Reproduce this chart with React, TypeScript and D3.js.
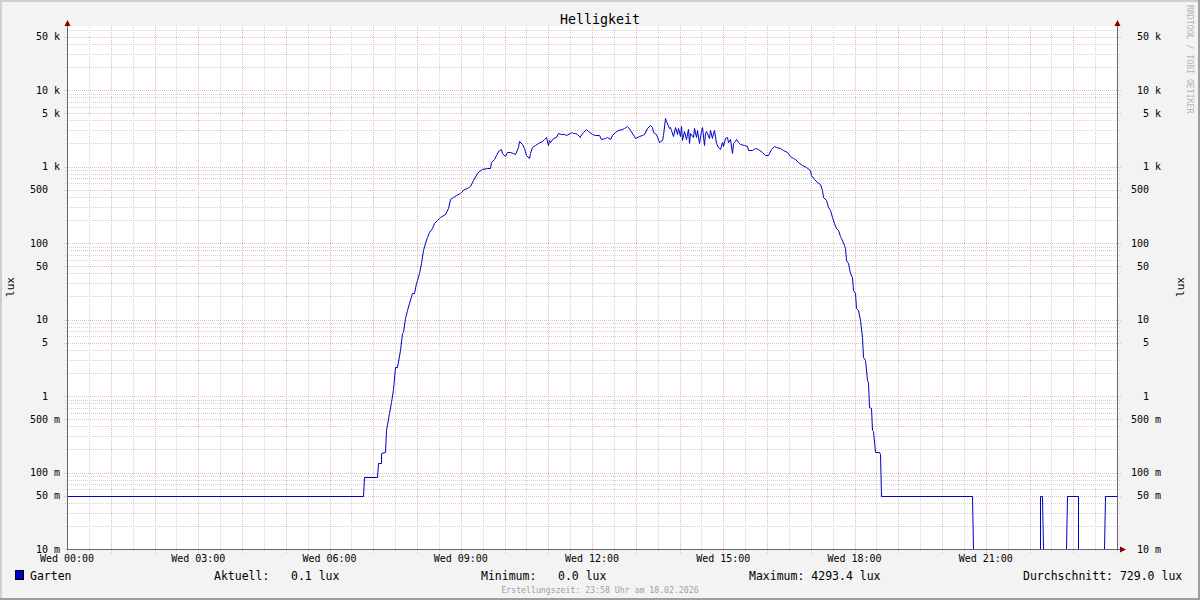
import React, { useEffect } from 'react'
import * as d3 from 'd3'

// Zeit in Minuten seit 00:00, Helligkeit in lux
const TIMES = [
  0, 406, 407, 425, 426, 430, 431, 436, 438, 442, 445, 447, 450, 453, 456, 459, 461, 464, 466, 469,
  473, 476, 478, 480, 483, 485, 488, 491, 494, 497, 500, 503, 507, 512, 518, 522, 525, 530, 534, 539,
  544, 548, 553, 557, 562, 565, 569, 576, 580, 582, 586, 588, 591, 595, 597, 600, 603, 607, 611, 614,
  618, 620, 624, 627, 629, 633, 635, 638, 642, 646, 651, 654, 657, 659, 661, 662, 667, 671, 674, 677,
  681, 685, 690, 692, 694, 697, 700, 703, 704, 707, 712, 715, 720, 724, 729, 733, 738, 741, 744, 747,
  752, 756, 761, 764, 768, 770, 772, 777, 779, 784, 788, 791, 795, 799, 802, 804, 808, 812, 816, 818,
  820, 822, 825, 827, 829, 831, 834, 836, 838, 841, 842, 844, 846, 849, 851, 853, 855, 858, 860, 863,
  864, 867, 869, 871, 874, 875, 877, 880, 882, 884, 885, 887, 890, 893, 896, 898, 900, 902, 905, 907,
  909, 912, 914, 916, 918, 921, 923, 928, 932, 934, 939, 944, 948, 953, 957, 962, 965, 969, 973, 978,
  982, 987, 992, 996, 998, 1003, 1008, 1014, 1019, 1021, 1024, 1028, 1032, 1035, 1037, 1041, 1044, 1046, 1049, 1052,
  1055, 1058, 1060, 1062, 1065, 1067, 1069, 1071, 1074, 1076, 1078, 1081, 1082, 1085, 1087, 1090, 1092, 1094, 1097, 1099,
  1100, 1102, 1104, 1106, 1108, 1113, 1115, 1117, 1241, 1242, 1334, 1335, 1337, 1338, 1370, 1371, 1386, 1387, 1422, 1423,
  1440
]
const LUX = [
  0.05, 0.05, 0.088, 0.088, 0.134, 0.134, 0.178, 0.187, 0.36, 0.594, 0.843, 1.22, 2.42, 2.42, 3.99, 6.6, 6.9, 10.4, 13.3, 16.3,
  22, 22, 29.7, 32.8, 40.2, 54.3, 81, 99, 121, 140, 156, 181, 200, 217, 239, 284, 372, 403, 424, 455,
  503, 519, 556, 666, 815, 881, 916, 944, 963, 1155, 1242, 1414, 1610, 1677, 1486, 1371, 1563, 1563, 1514, 1442,
  1815, 2155, 1950, 1730, 1414, 1303, 1486, 1782, 1910, 2047, 2177, 2265, 2455, 1910, 2220, 2110, 2339, 2410, 2767, 2661,
  2661, 2582, 2767, 2851, 2716, 2767, 2661, 2455, 2506, 2851, 3063, 2938, 2661, 2582, 2558, 2265, 2339, 2410, 2265, 2582,
  2851, 3000, 3063, 3162, 3412, 3252, 3000, 2506, 2339, 2506, 2582, 2661, 3162, 3485, 3252, 2851, 2661, 2110, 2220, 2582,
  4293, 3970, 3162, 3252, 3000, 2506, 3252, 2661, 3162, 2506, 3381, 2220, 2938, 2265, 3063, 2009, 2716, 2410, 3162, 2410,
  3000, 2009, 2938, 3311, 1910, 2716, 2938, 2339, 3000, 2339, 2410, 3000, 2009, 1815, 1677, 2110, 1850, 2339, 2455, 2110,
  2265, 1486, 2009, 2177, 2265, 2009, 1950, 1910, 1850, 1660, 1660, 1730, 1677, 1563, 1414, 1414, 1677, 1850, 1815, 1730,
  1660, 1563, 1380, 1303, 1250, 1155, 1047, 977, 900, 774, 680, 634, 591, 493, 403, 365, 298, 270, 221, 181,
  156, 148, 124, 115, 94, 85, 60, 54, 40, 36, 24.3, 22, 14, 13.3, 9.8, 5.96, 3.27, 2.96, 1.62, 1.54,
  0.725, 0.69, 0.36, 0.345, 0.187, 0.187, 0.175, 0.05, 0.05, 0, 0, 0.05, 0.05, 0, 0, 0.05, 0.05, 0, 0, 0.05,
  0.05
]

const Y_TICKS = [50000, 10000, 5000, 1000, 500, 100, 50, 10, 5, 1, 0.5, 0.1, 0.05, 0.01]
const Y_LABELS = ['50 k', '10 k', '5 k', '1 k', '500', '100', '50', '10', '5', '1', '500 m', '100 m', '50 m', '10 m']
const X_LABELS = ['Wed 00:00', 'Wed 03:00', 'Wed 06:00', 'Wed 09:00', 'Wed 12:00', 'Wed 15:00', 'Wed 18:00', 'Wed 21:00']

const SERIES = 'Garten'
const STAT_NAMES = ['Aktuell:', 'Minimum:', 'Maximum:', 'Durchschnitt:']
const STAT_VALUES = ['0.1 lux', '0.0 lux', '4293.4 lux', '729.0 lux']

const W = 1200
const H = 600
const L = 67
const R = 1117
const T = 26
const B = 549
const Y_MIN = 0.01
const Y_MAX = 68700

const FONT = '"DejaVu Sans Mono", monospace'
const MINOR = '#d3d3d3'
const MAJOR = '#ebb9b9'
const AXIS = '#686868'
const ARROW = '#7f0000'
const LINE = '#0000cc'

export default function App() {
  useEffect(() => {
    document.body.style.margin = '0'
  }, [])

  const x = d3.scaleLinear().domain([0, 1440]).range([L, R])
  const y = d3.scaleLog().domain([Y_MIN, Y_MAX]).range([B, T])

  const px = (v: number) => Math.round(v) + 0.5

  // horizontale Gitterlinien
  const hMinor: number[] = []
  const hMajor: number[] = []
  for (let e = -2; e <= 4; e++) {
    for (let k = 1; k <= 9; k++) {
      const v = k * Math.pow(10, e)
      if (v > Y_MAX) continue
      if (k === 1 || k === 5) hMajor.push(v)
      else hMinor.push(v)
    }
  }
  // vertikale Gitterlinien
  const vMinor: number[] = []
  const vMajor: number[] = []
  for (let m = 0; m <= 1440; m += 30) {
    if (m % 60 === 0) vMajor.push(m)
    else vMinor.push(m)
  }

  const data = TIMES.map((t, i) => ({ t, v: Math.max(LUX[i], Y_MIN) }))
  const line = d3.line<{ t: number; v: number }>()
    .x(d => px(x(d.t)))
    .y(d => px(y(d.v)))
  const path = line(data) || ''

  return (
    <svg width={W} height={H} style={{ position: 'absolute', left: 0, top: 0, display: 'block' }}
      fontFamily={FONT}>
      <rect x={0} y={0} width={W} height={H} fill="#f3f3f3" />
      {/* 3D Rahmen */}
      <rect x={0} y={0} width={W} height={2} fill="#cfcfcf" />
      <rect x={0} y={0} width={2} height={H} fill="#cfcfcf" />
      <rect x={0} y={H - 2} width={W} height={2} fill="#9e9e9e" />
      <rect x={W - 2} y={0} width={2} height={H} fill="#9e9e9e" />

      <rect x={L} y={T} width={R - L} height={B - T} fill="#ffffff" />

      <g shapeRendering="crispEdges" strokeWidth={1}>
        {hMinor.map(v => (
          <line key={'hm' + v} x1={L - 2} x2={R + 3} y1={px(y(v))} y2={px(y(v))}
            stroke={MINOR} strokeDasharray="1,1" />
        ))}
        {vMinor.map(m => (
          <line key={'vm' + m} x1={px(x(m))} x2={px(x(m))} y1={T} y2={B + 3}
            stroke={MINOR} strokeDasharray="1,1" />
        ))}
        {hMajor.map(v => (
          <line key={'hM' + v} x1={L - 3} x2={R + 4} y1={px(y(v))} y2={px(y(v))}
            stroke={MAJOR} strokeDasharray="1,1" />
        ))}
        {vMajor.map(m => (
          <line key={'vM' + m} x1={px(x(m))} x2={px(x(m))} y1={T} y2={B + 4}
            stroke={MAJOR} strokeDasharray="1,1" />
        ))}
      </g>

      <defs>
        <clipPath id="plot">
          <rect x={L} y={T - 2} width={R - L + 1} height={B - T + 3} />
        </clipPath>
      </defs>
      <path d={path} fill="none" stroke={LINE} strokeWidth={1} clipPath="url(#plot)" />

      {/* Achsen */}
      <g shapeRendering="crispEdges">
        <line x1={L + 0.5} x2={L + 0.5} y1={B + 1} y2={24} stroke={AXIS} />
        <line x1={R + 0.5} x2={R + 0.5} y1={B + 1} y2={24} stroke={AXIS} />
        <line x1={L} x2={1121} y1={B + 0.5} y2={B + 0.5} stroke={AXIS} />
      </g>
      <path d={`M${L - 2.5},26 L${L + 3.5},26 L${L + 0.5},20 Z`} fill={ARROW} />
      <path d={`M${R - 2.5},26 L${R + 3.5},26 L${R + 0.5},20 Z`} fill={ARROW} />
      <path d={`M1120,${B - 2.5} L1120,${B + 3.5} L1126,${B + 0.5} Z`} fill={ARROW} />

      {/* Y Beschriftung */}
      <g fontSize={10} fill="#000">
        {Y_TICKS.map((v, i) => {
          const unit = /[a-z]$/.test(Y_LABELS[i])
          return (
            <React.Fragment key={'yl' + v}>
              <text x={unit ? 60 : 48} y={y(v) + 3.5} textAnchor="end">{Y_LABELS[i]}</text>
              <text x={unit ? 1161 : 1149} y={y(v) + 3.5} textAnchor="end">{Y_LABELS[i]}</text>
            </React.Fragment>
          )
        })}
        {X_LABELS.map((lab, i) => (
          <text key={lab} x={x(i * 180)} y={562} textAnchor="middle">{lab}</text>
        ))}
      </g>

      <text x={600} y={23.5} textAnchor="middle" fontSize={13.3}>Helligkeit</text>
      <text transform="translate(14,287) rotate(-90)" textAnchor="middle" fontSize={11}>lux</text>
      <text transform="translate(1184,287) rotate(-90)" textAnchor="middle" fontSize={11}>lux</text>
      <text transform="translate(1187,5) rotate(90)" fontSize={8.2} fill="#b4b4b4">RRDTOOL / TOBI OETIKER</text>

      {/* Legende */}
      <rect x={15.5} y={570.5} width={8} height={9} fill={LINE} stroke="#000" shapeRendering="crispEdges" />
      <g fontSize={11.5} fill="#000">
        <text x={30} y={579.5}>{SERIES}</text>
        <text x={214} y={579.5}>{STAT_NAMES[0]}</text>
        <text x={291} y={579.5}>{STAT_VALUES[0]}</text>
        <text x={481} y={579.5}>{STAT_NAMES[1]}</text>
        <text x={558} y={579.5}>{STAT_VALUES[1]}</text>
        <text x={749} y={579.5}>{STAT_NAMES[2] + ' ' + STAT_VALUES[2]}</text>
        <text x={1023} y={579.5}>{STAT_NAMES[3] + ' ' + STAT_VALUES[3]}</text>
      </g>
      <text x={600} y={592.5} textAnchor="middle" fontSize={8.2} fill="#a0a0a0">
        Erstellungszeit: 23:58 Uhr am 18.02.2026
      </text>
    </svg>
  )
}
